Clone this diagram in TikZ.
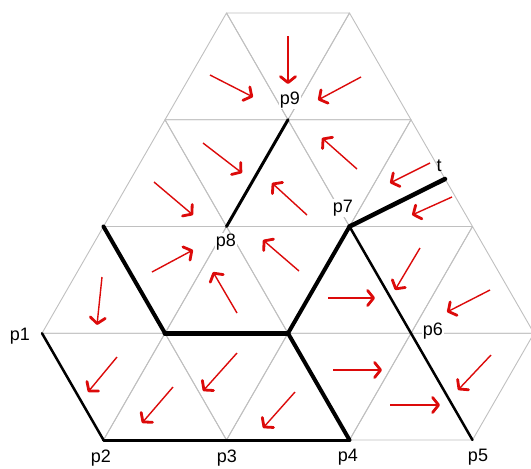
\documentclass[tikz,border=0pt]{standalone}
\usepackage{fontspec}
\setmainfont{Liberation Sans}
\usetikzlibrary{arrows.meta}
\definecolor{gridgray}{RGB}{192,192,192}
\definecolor{flowred}{RGB}{220,10,10}
\begin{document}
\begin{tikzpicture}[x=1pt,y=-1pt,
  gridline/.style={draw=gridgray,line width=0.9pt,line join=round},
  cut/.style={draw=black,line cap=round,line join=round},
  lab/.style={fill=white,inner sep=0.6pt,font=\fontsize{18}{18}\selectfont},
  flow/.style={draw=flowred,line width=1.4pt,-{Straight Barb[length=6pt,width=15pt,line width=2.8pt,round]}}]
\useasboundingbox (0,0) rectangle (531,469);
\fill[white] (0,0) rectangle (531,469);
% lattice vertices
\foreach \k/\r in {1/0,3/0,5/0,7/0,0/1,2/1,4/1,6/1,8/1,1/2,3/2,5/2,7/2,2/3,4/3,6/3,3/4,5/4}
  \coordinate (v\k-\r) at ({42+61.5*\k},{440-106.75*\r});
% triangular grid
\foreach \a/\b/\c in {2-3/4-3/3-4, 3-4/5-4/4-3, 4-3/6-3/5-4,
  1-2/3-2/2-3, 2-3/4-3/3-2, 3-2/5-2/4-3, 4-3/6-3/5-2, 5-2/7-2/6-3,
  0-1/2-1/1-2, 1-2/3-2/2-1, 2-1/4-1/3-2, 3-2/5-2/4-1, 4-1/6-1/5-2, 5-2/7-2/6-1, 6-1/8-1/7-2,
  0-1/2-1/1-0, 1-0/3-0/2-1, 2-1/4-1/3-0, 3-0/5-0/4-1, 4-1/6-1/5-0, 5-0/7-0/6-1, 6-1/8-1/7-0}
  \draw[gridline] (v\a) -- (v\b) -- (v\c) -- cycle;
% named points
\coordinate (p1) at (v0-1);
\coordinate (p2) at (v1-0);
\coordinate (p3) at (v3-0);
\coordinate (p4) at (v5-0);
\coordinate (p5) at (v7-0);
\coordinate (p6) at (v6-1);
\coordinate (p7) at (v5-2);
\coordinate (p8) at (v3-2);
\coordinate (p9) at (v4-3);
\coordinate (t) at (445,179);
% thick black lines
\draw[cut,line width=3pt] (p9) -- (p8);
\draw[cut,line width=4pt] (v1-2) -- (v2-1);
\draw[cut,line width=5pt] (v2-1) -- (v4-1);
\draw[cut,line width=4pt] (v4-1) -- (p7);
\draw[cut,line width=4pt] (v4-1) -- (p4);
\draw[cut,line width=4.5pt] (p7) -- (t);
\draw[cut,line width=2.5pt] (p7) -- (p6) -- (p5);
\draw[cut,line width=2.5pt] (p1) -- (p2);
\draw[cut,line width=3pt] (p2) -- (p3) -- (p4);
% labels
\node[lab] (l1) at (20,336) {p1};
\node[lab] (l2) at (101,458) {p2};
\node[lab] (l3) at (227,458) {p3};
\node[lab] (l4) at (348,457) {p4};
\node[lab] (l5) at (478,457) {p5};
\node[lab] (l6) at (433,331) {p6};
\node[lab] (l7) at (343,208) {p7};
\node[lab] (l8) at (226,242) {p8};
\node[lab] (l9) at (290,100) {p9};
\node[font=\fontsize{18}{18}\selectfont,inner sep=0.5pt] (lt) at (439,166) {t};
% red flow arrows
\foreach \xa/\ya/\xb/\yb in {
  210/75/253/97, 288/36/288/84, 361/77/318/100,
  203/143/242/173, 154/182/193/215, 357/169/322/138, 307/215/272/183,
  430/163/390/183, 452/197/412/215,
  102/277/97/325, 152/272/193/250, 237/313/213/272, 299/271/263/240,
  328/298/375/298, 420/248/395/290, 490/290/447/312,
  117/357/88/392, 173/387/142/423, 237/353/203/391, 295/392/263/428,
  333/370/382/370, 390/405/440/405, 491/355/458/390}
  \draw[flow] (\xa,\ya) -- (\xb,\yb);
\end{tikzpicture}
\end{document}
